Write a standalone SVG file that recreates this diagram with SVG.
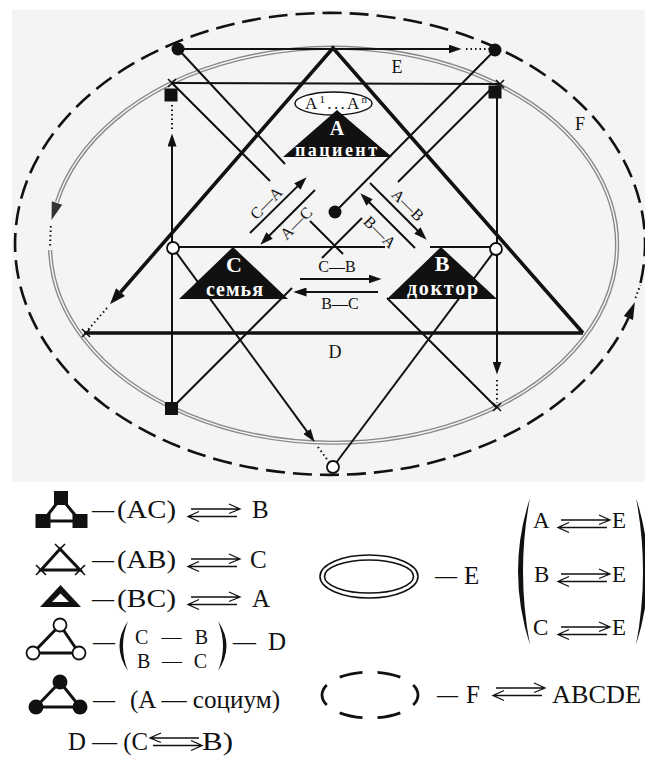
<svg xmlns="http://www.w3.org/2000/svg" width="645" height="757" viewBox="0 0 645 757">
<defs>
<style>
.ln{stroke:#111;stroke-width:2;fill:none}
.tk{stroke:#111;stroke-width:3.6;fill:none;stroke-linejoin:miter}
.dt{stroke:#111;stroke-width:2;fill:none;stroke-dasharray:1.5 3}
.t{font-family:"Liberation Serif","DejaVu Serif",serif;fill:#111}
.lb{font-size:16px}
.wb{font-family:"Liberation Serif","DejaVu Serif",serif;font-weight:bold;fill:#fff}
.lg{font-size:25px}
.lr{font-size:23px}
.rel{stroke:#111;stroke-width:1.3;fill:none}
.ic{stroke:#111;stroke-width:3;fill:none}
.oc{fill:#fff;stroke:#111;stroke-width:1.8}
.xm{stroke:#111;stroke-width:1.6}
</style>
<marker id="arr" viewBox="0 0 13 9" refX="0.5" refY="4.5" markerWidth="13" markerHeight="9" markerUnits="userSpaceOnUse" orient="auto"><path d="M0,0 L13,4.5 L0,9 z" fill="#111"/></marker>
<g id="eq"><path class="rel" d="M3,0 H52 M41,-5 L52,0 L41,4.5 M0,7.5 H49 M11,2.5 L0,7.5 L11,12.5"/></g>
</defs>

<rect x="12" y="10" width="633" height="472" fill="#f4f4f4"/>

<g id="ellipse-F">
<path d="M640.5,283 A315,231 0 1 0 628.4,318" fill="none" stroke="#111" stroke-width="2.6" stroke-dasharray="19 8"/>
<polygon points="634.9,302 633,319.9 623.8,316.1" fill="#111"/>
<path class="dt" d="M635.5,298 L640.3,285"/>
<text class="t" x="580" y="130" font-size="18" text-anchor="middle">F</text>
</g>

<g id="ellipse-E">
<path d="M50.1,250 A283.5,197.5 0 1 0 56.9,202" fill="none" stroke="#888" stroke-width="4.2"/>
<path d="M50.1,250 A283.5,197.5 0 1 0 56.9,202" fill="none" stroke="#f4f4f4" stroke-width="1.5"/>
<polygon points="51.5,220 62.2,204.7 51.8,201.3" fill="#333"/>
<path class="dt" d="M50.8,226 L50,248"/>
<text class="t" x="397" y="73" font-size="18" text-anchor="middle">E</text>
</g>

<g id="connectors">
<path class="tk" d="M120.5,292.2 L333,48 L583,333"/>
<polygon points="110,304.3 125,296.1 116,288.3" fill="#111"/>
<path class="dt" d="M107,308 L87,331"/>
<path class="tk" d="M84,333 H583"/>

<path class="ln" d="M178,49 H449" marker-end="url(#arr)"/>
<path class="dt" d="M466,49 H489"/>
<path class="ln" d="M172,83 L500,84"/>
<path class="ln" d="M172,408 V146" marker-end="url(#arr)"/>
<path class="dt" d="M172,129 V103"/>
<path class="ln" d="M497,98 V362" marker-end="url(#arr)"/>
<path class="dt" d="M497,380 V403"/>

<path class="ln" d="M178,49 L285,164"/>
<path class="ln" d="M495,50 L335,212"/>

<path class="ln" d="M172,83 L270,181 M310,221 L343,254 M387,298 L497,408"/>
<path class="ln" d="M172,408 L292,288 M322,258 L362,218 M398,182 L492,88"/>

<path class="ln" d="M173,247 H385 M430,247 H496"/>
<path class="ln" d="M173,248 L307.3,431.8" marker-end="url(#arr)"/>
<path class="dt" d="M318,447 L329,462"/>
<path class="ln" d="M496,249 L333,467"/>

<path class="ln" d="M250,233 L297.7,186.1" marker-end="url(#arr)"/>
<path class="ln" d="M315,190 L269.2,235.8" marker-end="url(#arr)"/>
<path class="ln" d="M370,183 L417.8,230.8" marker-end="url(#arr)"/>
<path class="ln" d="M415,248 L369.2,202.2" marker-end="url(#arr)"/>
<path class="ln" d="M300,279 H369" marker-end="url(#arr)"/>
<path class="ln" d="M378,292 H306" marker-end="url(#arr)"/>
</g>

<g id="relation-labels" class="t lb">
<text transform="translate(266,203) rotate(-45)" text-anchor="middle" dominant-baseline="central">C—A</text>
<text transform="translate(296,223) rotate(-45)" text-anchor="middle" dominant-baseline="central">A—C</text>
<text transform="translate(408,205) rotate(45)" text-anchor="middle" dominant-baseline="central">A—B</text>
<text transform="translate(380,232) rotate(45)" text-anchor="middle" dominant-baseline="central">B—A</text>
<text x="337" y="272" text-anchor="middle">C—B</text>
<text x="340" y="309" text-anchor="middle">B—C</text>
<text x="335" y="358" font-size="18" text-anchor="middle">D</text>
</g>

<g id="node-A">
<ellipse cx="333.5" cy="103.5" rx="38.5" ry="11.5" fill="#fff" stroke="#111" stroke-width="1.5"/>
<text class="t" x="305" y="109" font-size="17" textLength="62" lengthAdjust="spacing">A<tspan font-size="11" dy="-6">1</tspan><tspan dy="6">...A</tspan><tspan font-size="11" dy="-6">n</tspan></text>
<polygon points="337,110 283,157 392,157" fill="#111"/>
<text class="wb" x="337" y="135" font-size="20" text-anchor="middle">A</text>
<text class="wb" x="295" y="155.5" font-size="18" textLength="82" lengthAdjust="spacing">пациент</text>
</g>

<g id="node-C">
<polygon points="233,247 179,299 288,299" fill="#111"/>
<text class="wb" x="234" y="272" font-size="22" text-anchor="middle">C</text>
<text class="wb" x="206" y="296" font-size="20" textLength="57" lengthAdjust="spacing">семья</text>
</g>

<g id="node-B">
<polygon points="441,247 387,299 497,299" fill="#111"/>
<text class="wb" x="442" y="271" font-size="22" text-anchor="middle">B</text>
<text class="wb" x="407" y="295" font-size="20" textLength="71" lengthAdjust="spacing">доктор</text>
</g>

<g id="vertices">
<circle cx="178" cy="49" r="6.5" fill="#111"/>
<circle cx="495" cy="50" r="6.5" fill="#111"/>
<circle cx="335" cy="212" r="6.5" fill="#111"/>
<circle class="oc" cx="173" cy="248" r="6"/>
<circle class="oc" cx="496" cy="249" r="6"/>
<circle class="oc" cx="333" cy="467" r="6"/>
<rect x="164.5" y="88.5" width="13" height="13" fill="#111"/>
<rect x="488.5" y="85.5" width="13" height="13" fill="#111"/>
<rect x="165" y="402" width="13" height="13" fill="#111"/>
<path class="xm" d="M168,79 L176,87 M168,87 L176,79 M496,80 L504,88 M496,88 L504,80 M493,403 L501,411 M493,411 L501,403 M82,329 L90,337 M82,337 L90,329"/>
</g>

<g id="legend">
<g id="leg-square">
<path class="ic" d="M61,498 L43,521 H80 Z"/>
<rect x="54" y="491" width="14" height="14" fill="#111"/>
<rect x="35.5" y="514" width="15" height="14" fill="#111"/>
<rect x="72.5" y="514" width="15" height="14" fill="#111"/>
<text class="t lg" x="92" y="518" textLength="22" lengthAdjust="spacingAndGlyphs">—</text>
<text class="t lg" x="117" y="518" textLength="59" lengthAdjust="spacingAndGlyphs">(AC)</text>
<use href="#eq" transform="translate(188,509)"/>
<text class="t lg" x="252" y="518">B</text>
</g>
<g id="leg-cross">
<path class="ic" d="M60,549 L41,570 H80 Z" stroke-width="2.5"/>
<path class="xm" d="M55,544 L65,554 M55,554 L65,544 M36,565 L46,575 M36,575 L46,565 M75,565 L85,575 M75,575 L85,565" stroke-width="2.2"/>
<text class="t lg" x="92" y="568" textLength="22" lengthAdjust="spacingAndGlyphs">—</text>
<text class="t lg" x="117" y="568" textLength="59" lengthAdjust="spacingAndGlyphs">(AB)</text>
<use href="#eq" transform="translate(188,559)"/>
<text class="t lg" x="250" y="568">C</text>
</g>
<g id="leg-thick">
<polygon points="40,607 81,607 60.5,585" fill="#111"/>
<polygon points="52,602 69,602 60.5,593.5" fill="#fff"/>
<text class="t lg" x="92" y="607" textLength="22" lengthAdjust="spacingAndGlyphs">—</text>
<text class="t lg" x="117" y="607" textLength="59" lengthAdjust="spacingAndGlyphs">(BC)</text>
<use href="#eq" transform="translate(188,597)"/>
<text class="t lg" x="252" y="607">A</text>
</g>
<g id="leg-open">
<path class="ic" d="M60,625 L33,653 H79 Z"/>
<circle class="oc" cx="60" cy="625" r="6.5" stroke-width="2.2"/>
<circle class="oc" cx="33" cy="653" r="6.5" stroke-width="2.2"/>
<circle class="oc" cx="79" cy="653" r="6.5" stroke-width="2.2"/>
<text class="t lg" x="93" y="650" textLength="22" lengthAdjust="spacingAndGlyphs">—</text>
<path d="M128,621 Q111,646 128,671 Q118,646 128,621 Z" fill="#111"/>
<text class="t" font-size="20" x="135" y="644" textLength="73" lengthAdjust="spacing">C — B</text>
<text class="t" font-size="20" x="137" y="668" textLength="70" lengthAdjust="spacing">B — C</text>
<path d="M218,621 Q235,646 218,671 Q228,646 218,621 Z" fill="#111"/>
<text class="t lg" x="233" y="650" textLength="23" lengthAdjust="spacingAndGlyphs">—</text>
<text class="t lg" x="268" y="650">D</text>
</g>
<g id="leg-filled">
<path class="ic" d="M60,682 L36,707 H80 Z"/>
<circle cx="60" cy="682" r="7.5" fill="#111"/>
<circle cx="36" cy="707" r="7.5" fill="#111"/>
<circle cx="80" cy="707" r="7.5" fill="#111"/>
<text class="t lg" x="93" y="708" textLength="22" lengthAdjust="spacingAndGlyphs">—</text>
<text class="t lg" x="130" y="708" textLength="150" lengthAdjust="spacingAndGlyphs">(A — социум)</text>
</g>
<g id="leg-D">
<text class="t lg" x="68" y="750" textLength="80" lengthAdjust="spacingAndGlyphs">D — (C</text>
<use href="#eq" transform="translate(202,738) scale(-1,1)"/>
<text class="t lg" x="202" y="750" textLength="31" lengthAdjust="spacingAndGlyphs">B)</text>
</g>
<g id="leg-E">
<ellipse cx="369" cy="576.5" rx="49" ry="21.5" fill="none" stroke="#111" stroke-width="1.6"/>
<ellipse cx="369" cy="576.5" rx="44.5" ry="16.5" fill="none" stroke="#111" stroke-width="1.6"/>
<text class="t lg" x="435" y="584" textLength="22" lengthAdjust="spacingAndGlyphs">—</text>
<text class="t lg" x="464" y="584">E</text>
<path d="M530,498 Q506,571 530,645 Q516,571 530,498 Z" fill="#111"/>
<path d="M636,498 Q660,571 636,645 Q650,571 636,498 Z" fill="#111"/>
<text class="t lr" x="533" y="528">A</text>
<use href="#eq" transform="translate(558,520)"/>
<text class="t lr" x="612" y="528">E</text>
<text class="t lr" x="534" y="582">B</text>
<use href="#eq" transform="translate(558,574)"/>
<text class="t lr" x="612" y="582">E</text>
<text class="t lr" x="533" y="635">C</text>
<use href="#eq" transform="translate(558,627)"/>
<text class="t lr" x="612" y="635">E</text>
</g>
<g id="leg-F">
<path d="M418,695 A48,23 0 0 1 322,695 A48,23 0 0 1 418,695" pathLength="240" fill="none" stroke="#111" stroke-width="2.8" stroke-dasharray="24 16" stroke-dashoffset="12"/>
<text class="t lg" x="437" y="703" textLength="21" lengthAdjust="spacingAndGlyphs">—</text>
<text class="t lg" x="466" y="703">F</text>
<use href="#eq" transform="translate(493,688)"/>
<text class="t lg" x="552" y="703" textLength="89" lengthAdjust="spacingAndGlyphs">ABCDE</text>
</g>
</g>
</svg>
